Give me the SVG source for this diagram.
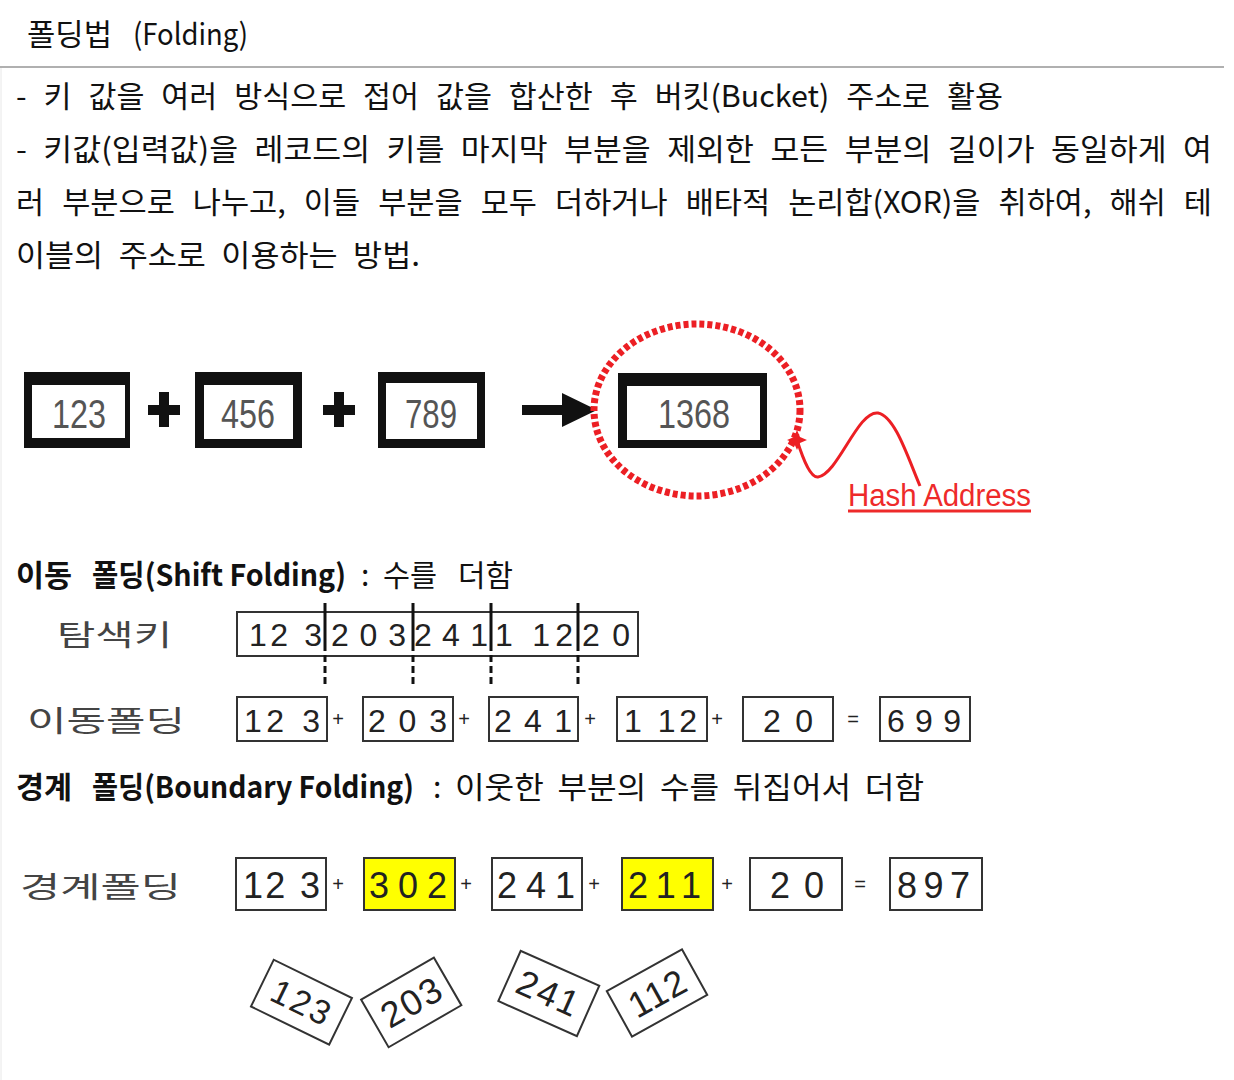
<svg xmlns="http://www.w3.org/2000/svg" width="1234" height="1080" viewBox="0 0 1234 1080">
<style>
.kr{font-family:"Noto Sans CJK KR","Noto Sans",sans-serif;font-size:30px;fill:#111}
.b{font-weight:700}
.hw{font-family:"Noto Sans CJK KR",sans-serif;font-size:29px;fill:#444}
.dg{font-family:"Liberation Sans",Arial,sans-serif;fill:#222}
.big{font-family:"Liberation Sans",Arial,sans-serif;font-size:40px;fill:#555;text-anchor:middle}
.bx{fill:#fff;stroke:#333;stroke-width:2}
.yl{fill:#ffff00;stroke:#333;stroke-width:2}
.op{font-family:"Liberation Sans",Arial,sans-serif;fill:#222;font-size:20px;text-anchor:middle}
.thick{fill:#111}
.div{stroke:#111;stroke-width:3;stroke-dasharray:48 4 7 4 7 4 12}
.red{fill:none;stroke:#ec1f24}
</style>
<rect width="1234" height="1080" fill="#fff"/>
<line x1="1" y1="67" x2="1" y2="1080" stroke="#e8e8e8" stroke-width="1"/>

<!-- header -->
<g id="header">
<text class="kr" x="27" y="45" textLength="85" lengthAdjust="spacingAndGlyphs">폴딩법</text>
<text class="kr" x="133" y="45" textLength="115" lengthAdjust="spacingAndGlyphs">(Folding)</text>
<line x1="0" y1="67" x2="1224" y2="67" stroke="#b0b0b0" stroke-width="2"/>
</g>

<!-- body text -->
<g id="body-text">
<text class="kr" x="16" y="107" word-spacing="10" textLength="987" lengthAdjust="spacingAndGlyphs">- 키 값을 여러 방식으로 접어 값을 합산한 후 버킷(Bucket) 주소로 활용</text>
<text class="kr" x="16" y="160" word-spacing="9" textLength="1196" lengthAdjust="spacingAndGlyphs">- 키값(입력값)을 레코드의 키를 마지막 부분을 제외한 모든 부분의 길이가 동일하게 여</text>
<text class="kr" x="16" y="213" word-spacing="11" textLength="1196" lengthAdjust="spacingAndGlyphs">러 부분으로 나누고, 이들 부분을 모두 더하거나 배타적 논리합(XOR)을 취하여, 해쉬 테</text>
<text class="kr" x="16" y="266" word-spacing="8" textLength="404" lengthAdjust="spacingAndGlyphs">이블의 주소로 이용하는 방법.</text>
</g>

<!-- top example -->
<g id="box-123">
<rect x="24" y="372" width="106" height="76" class="thick"/>
<rect x="32" y="385" width="93" height="53" fill="#fff"/>
<text class="big" x="79" y="428" textLength="54" lengthAdjust="spacingAndGlyphs">123</text>
</g>
<g id="plus-1"><rect x="148" y="405" width="32" height="10" class="thick"/><rect x="159" y="392" width="10" height="35" class="thick"/></g>
<g id="box-456">
<rect x="195" y="372" width="107" height="76" class="thick"/>
<rect x="204" y="385" width="89" height="54" fill="#fff"/>
<text class="big" x="248" y="428" textLength="54" lengthAdjust="spacingAndGlyphs">456</text>
</g>
<g id="plus-2"><rect x="323" y="405" width="32" height="10" class="thick"/><rect x="334" y="392" width="10" height="35" class="thick"/></g>
<g id="box-789">
<rect x="378" y="372" width="107" height="76" class="thick"/>
<rect x="386" y="383" width="91" height="56" fill="#fff"/>
<text class="big" x="431" y="428" textLength="52" lengthAdjust="spacingAndGlyphs">789</text>
</g>
<g id="arrow">
<rect x="522" y="405" width="44" height="10" class="thick"/>
<polygon points="562,393 597,410 562,427" class="thick"/>
</g>
<g id="box-1368">
<rect x="618" y="373" width="149" height="75" class="thick"/>
<rect x="627" y="386" width="133" height="54" fill="#fff"/>
<text class="big" x="694" y="428" textLength="72" lengthAdjust="spacingAndGlyphs">1368</text>
</g>
<g id="hash-circle">
<ellipse cx="697" cy="410" rx="103" ry="86" class="red" stroke-width="7" stroke-dasharray="5 3"/>
<path d="M797,440 C804,462 811,478 818,477 C838,474 858,410 878,413 C895,416 908,458 920,486" class="red" stroke-width="3"/>
<polygon points="797,430 800,437 807,440 800,443 797,450 794,443 787,440 794,437" fill="#ec1f24"/>
</g>
<g id="hash-label">
<text x="848" y="506" font-family="Liberation Sans,Arial,sans-serif" font-size="31" fill="#ee2a2a" textLength="183" lengthAdjust="spacingAndGlyphs">Hash Address</text>
<line x1="848" y1="511" x2="1031" y2="511" stroke="#ee2a2a" stroke-width="3"/>
</g>

<!-- shift folding -->
<g id="shift-heading">
<text class="kr b" x="16" y="586" textLength="56" lengthAdjust="spacingAndGlyphs">이동</text>
<text class="kr b" x="92" y="586" textLength="254" lengthAdjust="spacingAndGlyphs">폴딩(Shift Folding)</text>
<text class="kr" x="361" y="586">:</text>
<text class="kr" x="383" y="586" textLength="54" lengthAdjust="spacingAndGlyphs">수를</text>
<text class="kr" x="458" y="586" textLength="55" lengthAdjust="spacingAndGlyphs">더함</text>
</g>
<g id="label-search-key"><text class="hw" x="57" y="646" textLength="115" lengthAdjust="spacingAndGlyphs">탐색키</text></g>
<g id="key-box">
<rect x="237" y="612" width="401" height="44" class="bx"/>
<text class="dg" font-size="32" y="646" x="249" textLength="73" lengthAdjust="spacing">12 3</text>
<text class="dg" font-size="32" y="646" x="331" textLength="75" lengthAdjust="spacing">203</text>
<text class="dg" font-size="32" y="646" x="414" textLength="74" lengthAdjust="spacing">241</text>
<text class="dg" font-size="32" y="646" x="495" textLength="78" lengthAdjust="spacing">1 12</text>
<text class="dg" font-size="32" y="646" x="582" textLength="48" lengthAdjust="spacing">20</text>
</g>
<g id="connectors">
<line x1="325" y1="603" x2="325" y2="684" class="div"/>
<line x1="413" y1="603" x2="413" y2="684" class="div"/>
<line x1="491" y1="603" x2="491" y2="684" class="div"/>
<line x1="578" y1="603" x2="578" y2="684" class="div"/>
</g>
<g id="label-shift"><text class="hw" x="27" y="732" textLength="158" lengthAdjust="spacingAndGlyphs">이동폴딩</text></g>
<g id="shift-row">
<rect x="237" y="697" width="90" height="44" class="bx"/>
<text class="dg" font-size="32" y="732" x="244" textLength="76" lengthAdjust="spacing">12 3</text>
<text class="op" x="338" y="726">+</text>
<rect x="363" y="697" width="90" height="44" class="bx"/>
<text class="dg" font-size="32" y="732" x="368" textLength="79" lengthAdjust="spacing">203</text>
<text class="op" x="464" y="726">+</text>
<rect x="489" y="697" width="89" height="44" class="bx"/>
<text class="dg" font-size="32" y="732" x="494" textLength="78" lengthAdjust="spacing">241</text>
<text class="op" x="590" y="726">+</text>
<rect x="617" y="697" width="90" height="44" class="bx"/>
<text class="dg" font-size="32" y="732" x="624" textLength="73" lengthAdjust="spacing">1 12</text>
<text class="op" x="717" y="726">+</text>
<rect x="743" y="697" width="90" height="44" class="bx"/>
<text class="dg" font-size="32" y="732" x="763" textLength="50" lengthAdjust="spacing">20</text>
<text class="op" x="853" y="726">=</text>
<rect x="880" y="697" width="90" height="44" class="bx"/>
<text class="dg" font-size="32" y="732" x="887" textLength="74" lengthAdjust="spacing">699</text>
</g>

<!-- boundary folding -->
<g id="boundary-heading">
<text class="kr b" x="16" y="798" textLength="56" lengthAdjust="spacingAndGlyphs">경계</text>
<text class="kr b" x="92" y="798" textLength="322" lengthAdjust="spacingAndGlyphs">폴딩(Boundary Folding)</text>
<text class="kr" x="433" y="798">:</text>
<text class="kr" x="455" y="798" word-spacing="6" textLength="469" lengthAdjust="spacingAndGlyphs">이웃한 부분의 수를 뒤집어서 더함</text>
</g>
<g id="label-boundary"><text class="hw" x="20" y="898" textLength="161" lengthAdjust="spacingAndGlyphs">경계폴딩</text></g>
<g id="boundary-row">
<rect x="236" y="858" width="90" height="52" class="bx"/>
<text class="dg" font-size="36" y="898" x="243" textLength="77" lengthAdjust="spacing">12 3</text>
<text class="op" x="338" y="891">+</text>
<rect x="364" y="858" width="91" height="52" class="yl"/>
<text class="dg" font-size="36" y="898" x="369" textLength="78" lengthAdjust="spacing">302</text>
<text class="op" x="466" y="891">+</text>
<rect x="492" y="858" width="90" height="52" class="bx"/>
<text class="dg" font-size="36" y="898" x="497" textLength="78" lengthAdjust="spacing">241</text>
<text class="op" x="594" y="891">+</text>
<rect x="622" y="858" width="91" height="52" class="yl"/>
<text class="dg" font-size="36" y="898" x="628" textLength="73" lengthAdjust="spacing">211</text>
<text class="op" x="727" y="891">+</text>
<rect x="750" y="858" width="92" height="52" class="bx"/>
<text class="dg" font-size="36" y="898" x="770" textLength="54" lengthAdjust="spacing">20</text>
<text class="op" x="860" y="891">=</text>
<rect x="890" y="858" width="92" height="52" class="bx"/>
<text class="dg" font-size="36" y="898" x="897" textLength="73" lengthAdjust="spacing">897</text>
</g>

<!-- rotated pieces -->
<g id="rot-123" transform="translate(301,1002) rotate(26)">
<rect x="-43" y="-26" width="87" height="52" class="bx"/>
<text class="dg" font-size="34" x="-31" y="12" textLength="62" lengthAdjust="spacing">123</text>
</g>
<g id="rot-203" transform="translate(411,1002) rotate(-30)">
<rect x="-42" y="-27" width="84" height="55" class="bx"/>
<text class="dg" font-size="36" x="-32" y="13" textLength="64" lengthAdjust="spacing">203</text>
</g>
<g id="rot-241" transform="translate(549,993) rotate(24)">
<rect x="-43" y="-27" width="86" height="55" class="bx"/>
<text class="dg" font-size="36" x="-33" y="13" textLength="64" lengthAdjust="spacing">241</text>
</g>
<g id="rot-112" transform="translate(657,993) rotate(-29)">
<rect x="-43" y="-26" width="86" height="52" class="bx"/>
<text class="dg" font-size="36" x="-30" y="13" textLength="60" lengthAdjust="spacing">112</text>
</g>
</svg>
